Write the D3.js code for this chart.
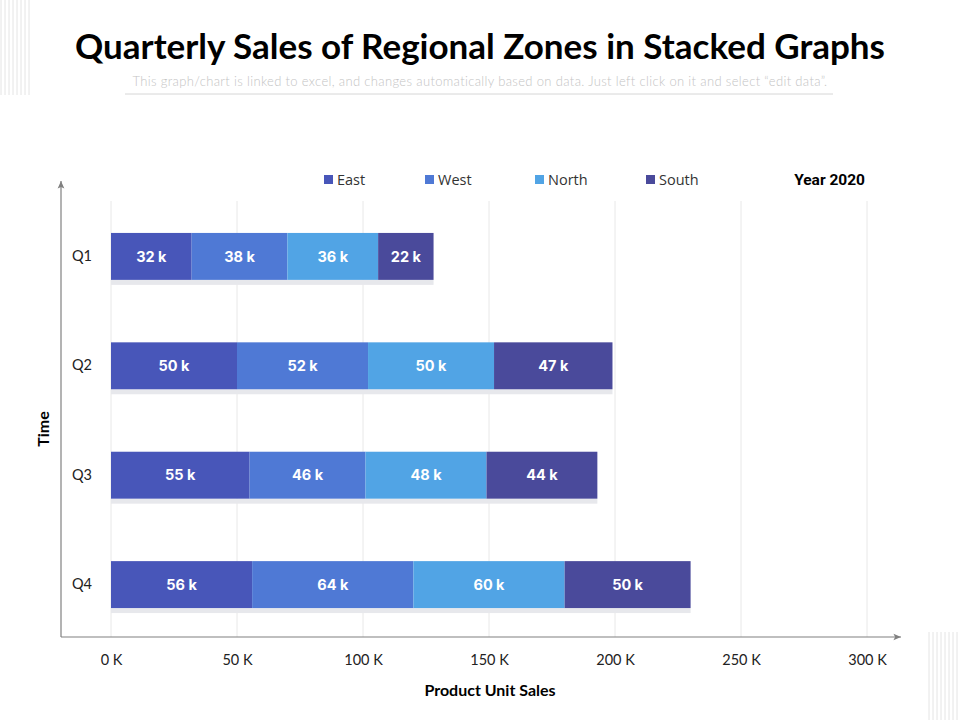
<!DOCTYPE html>
<html>
<head>
<meta charset="utf-8">
<script src="https://cdn.jsdelivr.net/npm/d3@7"></script>
<style>
  body { margin: 0; background: #fff; }
  svg { display: block; }
</style>
</head>
<body>
<div id="chart"></div>
<script>
// data
const quarters = ["Q1", "Q2", "Q3", "Q4"];
const zones = ["East", "West", "North", "South"];
const east = [32, 50, 55, 56];
const west = [38, 52, 46, 64];
const north = [36, 50, 48, 60];
const south = [22, 47, 44, 50];
const xTicks = [0, 50, 100, 150, 200, 250, 300];
const colors = ["#4856b9", "#4f79d5", "#51a4e5", "#4a4a9b"];

const svgWidth = 960, svgHeight = 720,
    margin = { top: 201, right: 93, bottom: 83, left: 111 },
    width = svgWidth - margin.left - margin.right,
    height = svgHeight - margin.top - margin.bottom;

const svgRoot = d3.select("#chart").append("svg")
    .attr("width", svgWidth)
    .attr("height", svgHeight);

// decorative stripes
const stripes = svgRoot.append("g");
for (let i = 0; i < 8; i++) {
    stripes.append("line")
        .attr("x1", 1 + i * 4).attr("x2", 1 + i * 4)
        .attr("y1", 0).attr("y2", 95)
        .attr("stroke", "#e4e4e4").attr("stroke-width", 1);
    stripes.append("line")
        .attr("x1", 929 + i * 4).attr("x2", 929 + i * 4)
        .attr("y1", 632).attr("y2", 720)
        .attr("stroke", "#e4e4e4").attr("stroke-width", 1);
}

// title
svgRoot.append("text")
    .attr("x", 480).attr("y", 59)
    .attr("text-anchor", "middle")
    .style("font-family", "Lato, sans-serif")
    .style("font-weight", "bold")
    .style("font-size", "35px")
    .attr("fill", "#000")
    .text("Quarterly Sales of Regional Zones in Stacked Graphs");
svgRoot.append("text")
    .attr("x", 480).attr("y", 86)
    .attr("text-anchor", "middle")
    .style("font-family", "Lato, sans-serif")
    .style("font-weight", "300")
    .style("font-size", "13px")
    .style("letter-spacing", "0.35px")
    .attr("fill", "#c4c4c4")
    .text("This graph/chart is linked to excel, and changes automatically  based  on data. Just left click on it and select \u201cedit data\u201d.");
svgRoot.append("line")
    .attr("x1", 125).attr("x2", 833)
    .attr("y1", 94).attr("y2", 94)
    .attr("stroke", "#d6d6d6");

const svg = svgRoot.append("g")
    .attr("transform", `translate(${margin.left},${margin.top})`);

// stack data
const tableData = quarters.map((q, i) => ({
    quarter: q, East: east[i], West: west[i], North: north[i], South: south[i]
}));
const series = d3.stack().keys(zones)(tableData);

// scales
const xScale = d3.scaleLinear().domain([0, 300]).range([0, width]);
const yScale = d3.scaleBand()
    .domain(quarters)
    .range([0, height + 3])
    .paddingInner(0.571)
    .paddingOuter(0.292);

// gridlines
svg.append("g")
    .selectAll("line")
    .data(xTicks)
    .join("line")
    .attr("x1", (d) => xScale(d)).attr("x2", (d) => xScale(d))
    .attr("y1", 0).attr("y2", height)
    .attr("stroke", "#e8e8e8");

// shadow under bars
svg.append("g")
    .selectAll("rect")
    .data(tableData)
    .join("rect")
    .attr("x", xScale(0))
    .attr("y", (d) => yScale(d.quarter) + yScale.bandwidth())
    .attr("width", (d) => xScale(d.East + d.West + d.North + d.South) - xScale(0))
    .attr("height", 5)
    .attr("fill", "#e7e8ec");

// bars
const layers = svg.append("g")
    .selectAll("g")
    .data(series)
    .join("g")
    .attr("fill", (d, i) => colors[i]);

layers.selectAll("rect")
    .data((d) => d)
    .join("rect")
    .attr("x", (d) => xScale(d[0]))
    .attr("y", (d) => yScale(d.data.quarter))
    .attr("width", (d) => xScale(d[1]) - xScale(d[0]))
    .attr("height", yScale.bandwidth());

layers.selectAll("text")
    .data((d) => d.map((v) => ({ v: v, val: v[1] - v[0] })))
    .join("text")
    .attr("x", (d) => (xScale(d.v[0]) + xScale(d.v[1])) / 2)
    .attr("y", (d) => yScale(d.v.data.quarter) + yScale.bandwidth() / 2)
    .attr("dy", "0.36em")
    .attr("text-anchor", "middle")
    .attr("fill", "#fff")
    .style("font-family", "Inter, sans-serif")
    .style("font-weight", "bold")
    .style("font-size", "14.5px")
    .text((d) => d.val + " k");

// axes lines
const axisColor = "#808080";
svgRoot.append("defs").append("marker")
    .attr("id", "arrow")
    .attr("viewBox", "0 0 10 10")
    .attr("refX", 9).attr("refY", 5)
    .attr("markerWidth", 7).attr("markerHeight", 7)
    .attr("orient", "auto")
    .append("path")
    .attr("d", "M0,1 L9,5 L0,9 L2,5 Z")
    .attr("fill", axisColor);

svgRoot.append("line")
    .attr("x1", 61).attr("x2", 61)
    .attr("y1", 637).attr("y2", 181)
    .attr("stroke", axisColor).attr("stroke-width", 1.2)
    .attr("marker-end", "url(#arrow)");
svgRoot.append("line")
    .attr("x1", 61).attr("x2", 901)
    .attr("y1", 637).attr("y2", 637)
    .attr("stroke", axisColor).attr("stroke-width", 1.2)
    .attr("marker-end", "url(#arrow)");

// x tick labels
const xAxis = svg.append("g")
    .attr("transform", `translate(0,${height + 15})`)
    .call(d3.axisBottom(xScale).tickValues(xTicks).tickSize(0).tickFormat((d) => d + " K"));
xAxis.select(".domain").remove();
xAxis.selectAll("text")
    .style("font-family", "Lato, sans-serif")
    .style("font-size", "14.5px")
    .attr("fill", "#222");

// y tick labels
const yAxis = svg.append("g")
    .attr("transform", `translate(-16,0)`)
    .call(d3.axisLeft(yScale).tickSize(0));
yAxis.select(".domain").remove();
yAxis.selectAll("text")
    .style("font-family", "Lato, sans-serif")
    .style("font-size", "14.5px")
    .attr("fill", "#222");

// axis titles
svgRoot.append("text")
    .attr("x", 490).attr("y", 696)
    .attr("text-anchor", "middle")
    .style("font-family", "Lato, sans-serif")
    .style("font-weight", "bold")
    .style("font-size", "16px")
    .text("Product Unit Sales");
svgRoot.append("text")
    .attr("transform", "translate(49,429) rotate(-90)")
    .attr("text-anchor", "middle")
    .style("font-family", "Lato, sans-serif")
    .style("font-weight", "bold")
    .style("font-size", "16px")
    .text("Time");

// legend
const legendX = [324, 425, 535, 646];
const legend = svgRoot.append("g")
    .selectAll("g")
    .data(zones)
    .join("g")
    .attr("transform", (d, i) => `translate(${legendX[i]},180)`);
legend.append("rect")
    .attr("x", 0).attr("y", -5)
    .attr("width", 9).attr("height", 9)
    .attr("fill", (d, i) => colors[i]);
legend.append("text")
    .attr("x", 13).attr("y", 0)
    .attr("dy", "0.35em")
    .style("font-family", "'Open Sans', sans-serif")
    .style("font-size", "14.5px")
    .attr("fill", "#333")
    .text((d) => d);

svgRoot.append("text")
    .attr("x", 865).attr("y", 180)
    .attr("dy", "0.35em")
    .attr("text-anchor", "end")
    .style("font-family", "Roboto, sans-serif")
    .style("font-weight", "bold")
    .style("font-size", "15.5px")
    .text("Year 2020");
</script>
</body>
</html>
